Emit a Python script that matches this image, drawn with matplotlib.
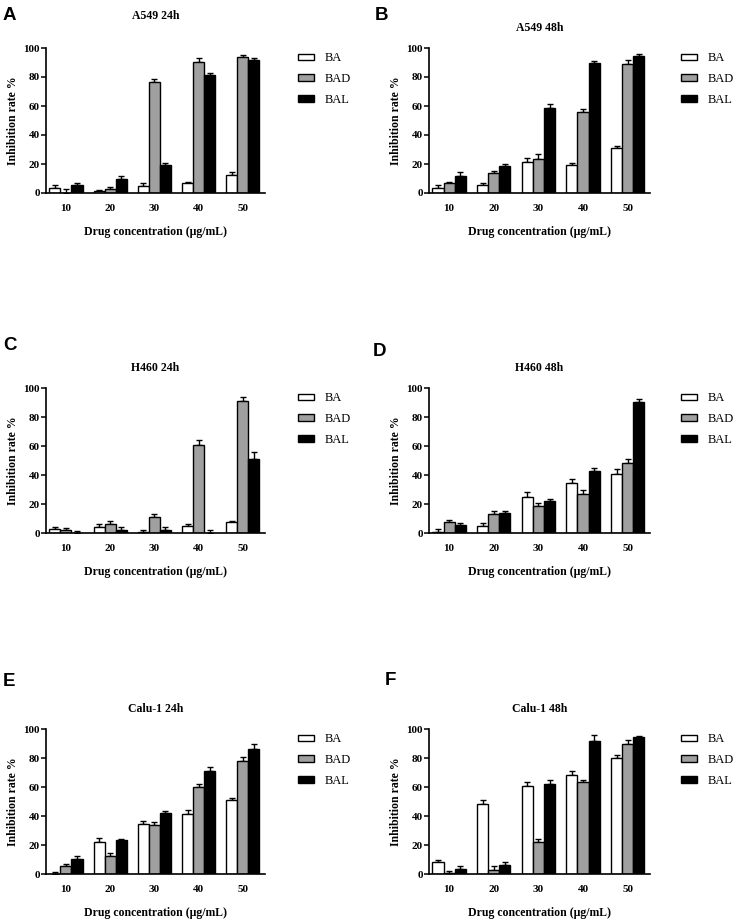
import numpy as np
import matplotlib
matplotlib.use("Agg")
import matplotlib.pyplot as plt
from matplotlib.patches import Patch

# Drug concentrations (ug/mL)
conc = ["10", "20", "30", "40", "50"]
groups = ["BA", "BAD", "BAL"]

# A549 24h
a549_24_ba = [3.7, 1.4, 5.0, 6.9, 12.4]
a549_24_ba_err = [2.0, 0.8, 1.9, 0.9, 2.0]
a549_24_bad = [0.3, 2.8, 76.3, 90.3, 93.6]
a549_24_bad_err = [2.5, 1.2, 2.6, 3.0, 1.8]
a549_24_bal = [5.7, 9.7, 19.3, 81.4, 91.7]
a549_24_bal_err = [1.0, 1.8, 1.6, 1.4, 1.6]

# A549 48h
a549_48_ba = [3.7, 5.5, 21.1, 19.3, 30.8]
a549_48_ba_err = [2.0, 1.6, 3.0, 1.6, 1.6]
a549_48_bad = [6.9, 13.6, 23.4, 56.1, 88.7]
a549_48_bad_err = [1.0, 1.6, 3.2, 1.8, 2.8]
a549_48_bal = [11.7, 18.6, 58.9, 89.9, 94.3]
a549_48_bal_err = [3.0, 1.6, 2.3, 1.4, 1.8]

# H460 24h
h460_24_ba = [3.0, 4.3, 1.0, 5.0, 7.5]
h460_24_ba_err = [1.1, 1.6, 1.1, 1.1, 1.0]
h460_24_bad = [2.0, 6.4, 10.8, 60.6, 91.3]
h460_24_bad_err = [1.2, 1.8, 2.3, 3.2, 2.7]
h460_24_bal = [0.0, 2.3, 1.8, 0.0, 51.0]
h460_24_bal_err = [1.4, 1.8, 2.3, 2.0, 4.6]

# H460 48h
h460_48_ba = [0.5, 5.1, 24.8, 34.3, 40.9]
h460_48_ba_err = [2.3, 2.0, 3.4, 3.0, 3.4]
h460_48_bad = [7.6, 13.1, 18.4, 26.9, 48.0]
h460_48_bad_err = [1.1, 2.0, 2.0, 2.8, 3.0]
h460_48_bal = [5.3, 13.8, 21.8, 43.0, 90.1]
h460_48_bal_err = [1.6, 1.4, 1.6, 2.0, 2.1]

# Calu-1 24h
calu_24_ba = [0.3, 22.3, 34.7, 41.4, 50.8]
calu_24_ba_err = [1.3, 2.5, 1.8, 2.8, 1.6]
calu_24_bad = [5.5, 12.2, 34.0, 60.0, 78.2]
calu_24_bad_err = [1.4, 2.5, 1.8, 2.3, 2.8]
calu_24_bal = [10.6, 23.2, 41.8, 71.3, 86.4]
calu_24_bal_err = [1.8, 0.9, 1.6, 2.5, 3.0]

# Calu-1 48h
calu_48_ba = [8.0, 48.3, 60.9, 68.3, 80.2]
calu_48_ba_err = [1.8, 2.8, 2.5, 2.8, 2.1]
calu_48_bad = [0.8, 2.8, 22.0, 63.2, 89.9]
calu_48_bad_err = [1.5, 2.5, 2.1, 1.8, 2.5]
calu_48_bal = [3.7, 6.2, 62.1, 92.0, 94.3]
calu_48_bal_err = [1.8, 2.3, 2.8, 3.7, 1.1]

titles = ["A549 24h", "A549 48h", "H460 24h", "H460 48h", "Calu-1 24h", "Calu-1 48h"]
letters = ["A", "B", "C", "D", "E", "F"]
panels = [
    (a549_24_ba, a549_24_ba_err, a549_24_bad, a549_24_bad_err, a549_24_bal, a549_24_bal_err),
    (a549_48_ba, a549_48_ba_err, a549_48_bad, a549_48_bad_err, a549_48_bal, a549_48_bal_err),
    (h460_24_ba, h460_24_ba_err, h460_24_bad, h460_24_bad_err, h460_24_bal, h460_24_bal_err),
    (h460_48_ba, h460_48_ba_err, h460_48_bad, h460_48_bad_err, h460_48_bal, h460_48_bal_err),
    (calu_24_ba, calu_24_ba_err, calu_24_bad, calu_24_bad_err, calu_24_bal, calu_24_bal_err),
    (calu_48_ba, calu_48_ba_err, calu_48_bad, calu_48_bad_err, calu_48_bal, calu_48_bal_err),
]

colors = ["white", "#a0a0a0", "black"]
serif = "Liberation Serif"

W, H = 735, 921
fig = plt.figure(figsize=(W / 100, H / 100), dpi=100)

# axes boxes in pixels: left, top, width, height
col_left = [46, 429]
col_width = [219, 221]
row_top = [48, 388, 729]
ax_h = 145
title_pad = [21, 12.5, 12.5, 12.5, 12.5, 12.5]
letter_pos = [(3, 7), (375, 7), (3, 337), (373, 343), (3, 673), (385, 672)]

x = np.arange(len(conc))
w = 0.25

for i, data in enumerate(panels):
    r, c = divmod(i, 2)
    left = col_left[c] / W
    bottom = 1 - (row_top[r] + ax_h) / H
    ax = fig.add_axes([left, bottom, col_width[c] / W, ax_h / H])

    for k in range(3):
        vals = np.array(data[2 * k])
        errs = np.array(data[2 * k + 1])
        ax.bar(x + (k - 1) * w, vals, w, color=colors[k], edgecolor="black",
               linewidth=1.0, zorder=2)
        ax.errorbar(x + (k - 1) * w, vals, yerr=[np.zeros_like(errs), errs],
                    fmt="none", ecolor="black", elinewidth=1.0, capsize=2.3,
                    capthick=1.0, zorder=1)

    ax.set_xlim(-0.45, 4.5)
    ax.set_ylim(0, 100)
    ax.set_yticks(range(0, 101, 20))
    ax.set_xticks(x)
    ax.set_xticklabels(conc)
    for s in ["top", "right"]:
        ax.spines[s].set_visible(False)
    for s in ["left", "bottom"]:
        ax.spines[s].set_linewidth(1.2)
    ax.tick_params(axis="x", length=0, pad=8)
    ax.tick_params(axis="y", length=3.5, width=1.1, pad=1)
    for lab in ax.get_xticklabels() + ax.get_yticklabels():
        lab.set_fontfamily(serif)
        lab.set_fontweight("bold")
        lab.set_fontsize(8)

    ax.set_title(titles[i], fontfamily=serif, fontweight="bold", fontsize=8.5,
                 pad=title_pad[i])
    ax.set_ylabel("Inhibition rate %", fontfamily=serif, fontweight="bold",
                  fontsize=8.5, labelpad=3)
    ax.set_xlabel("Drug concentration (\u03bcg/mL)", fontfamily=serif,
                  fontweight="bold", fontsize=8.5, labelpad=9)

    handles = [Patch(facecolor=colors[k], edgecolor="black", linewidth=1.0)
               for k in range(3)]
    ax.legend(handles, groups, loc="upper left",
              bbox_to_anchor=(252 / col_width[c], 0.97), frameon=False,
              borderpad=0, borderaxespad=0, handlelength=1.3,
              handleheight=0.45, handletextpad=0.8, labelspacing=0.7,
              prop={"family": serif, "size": 9})

    lx, ly = letter_pos[i]
    fig.text(lx / W, 1 - ly / H, letters[i], fontfamily="Liberation Sans",
             fontweight="bold", fontsize=13.5, ha="left", va="top")

fig.savefig("out.png", dpi=100)
